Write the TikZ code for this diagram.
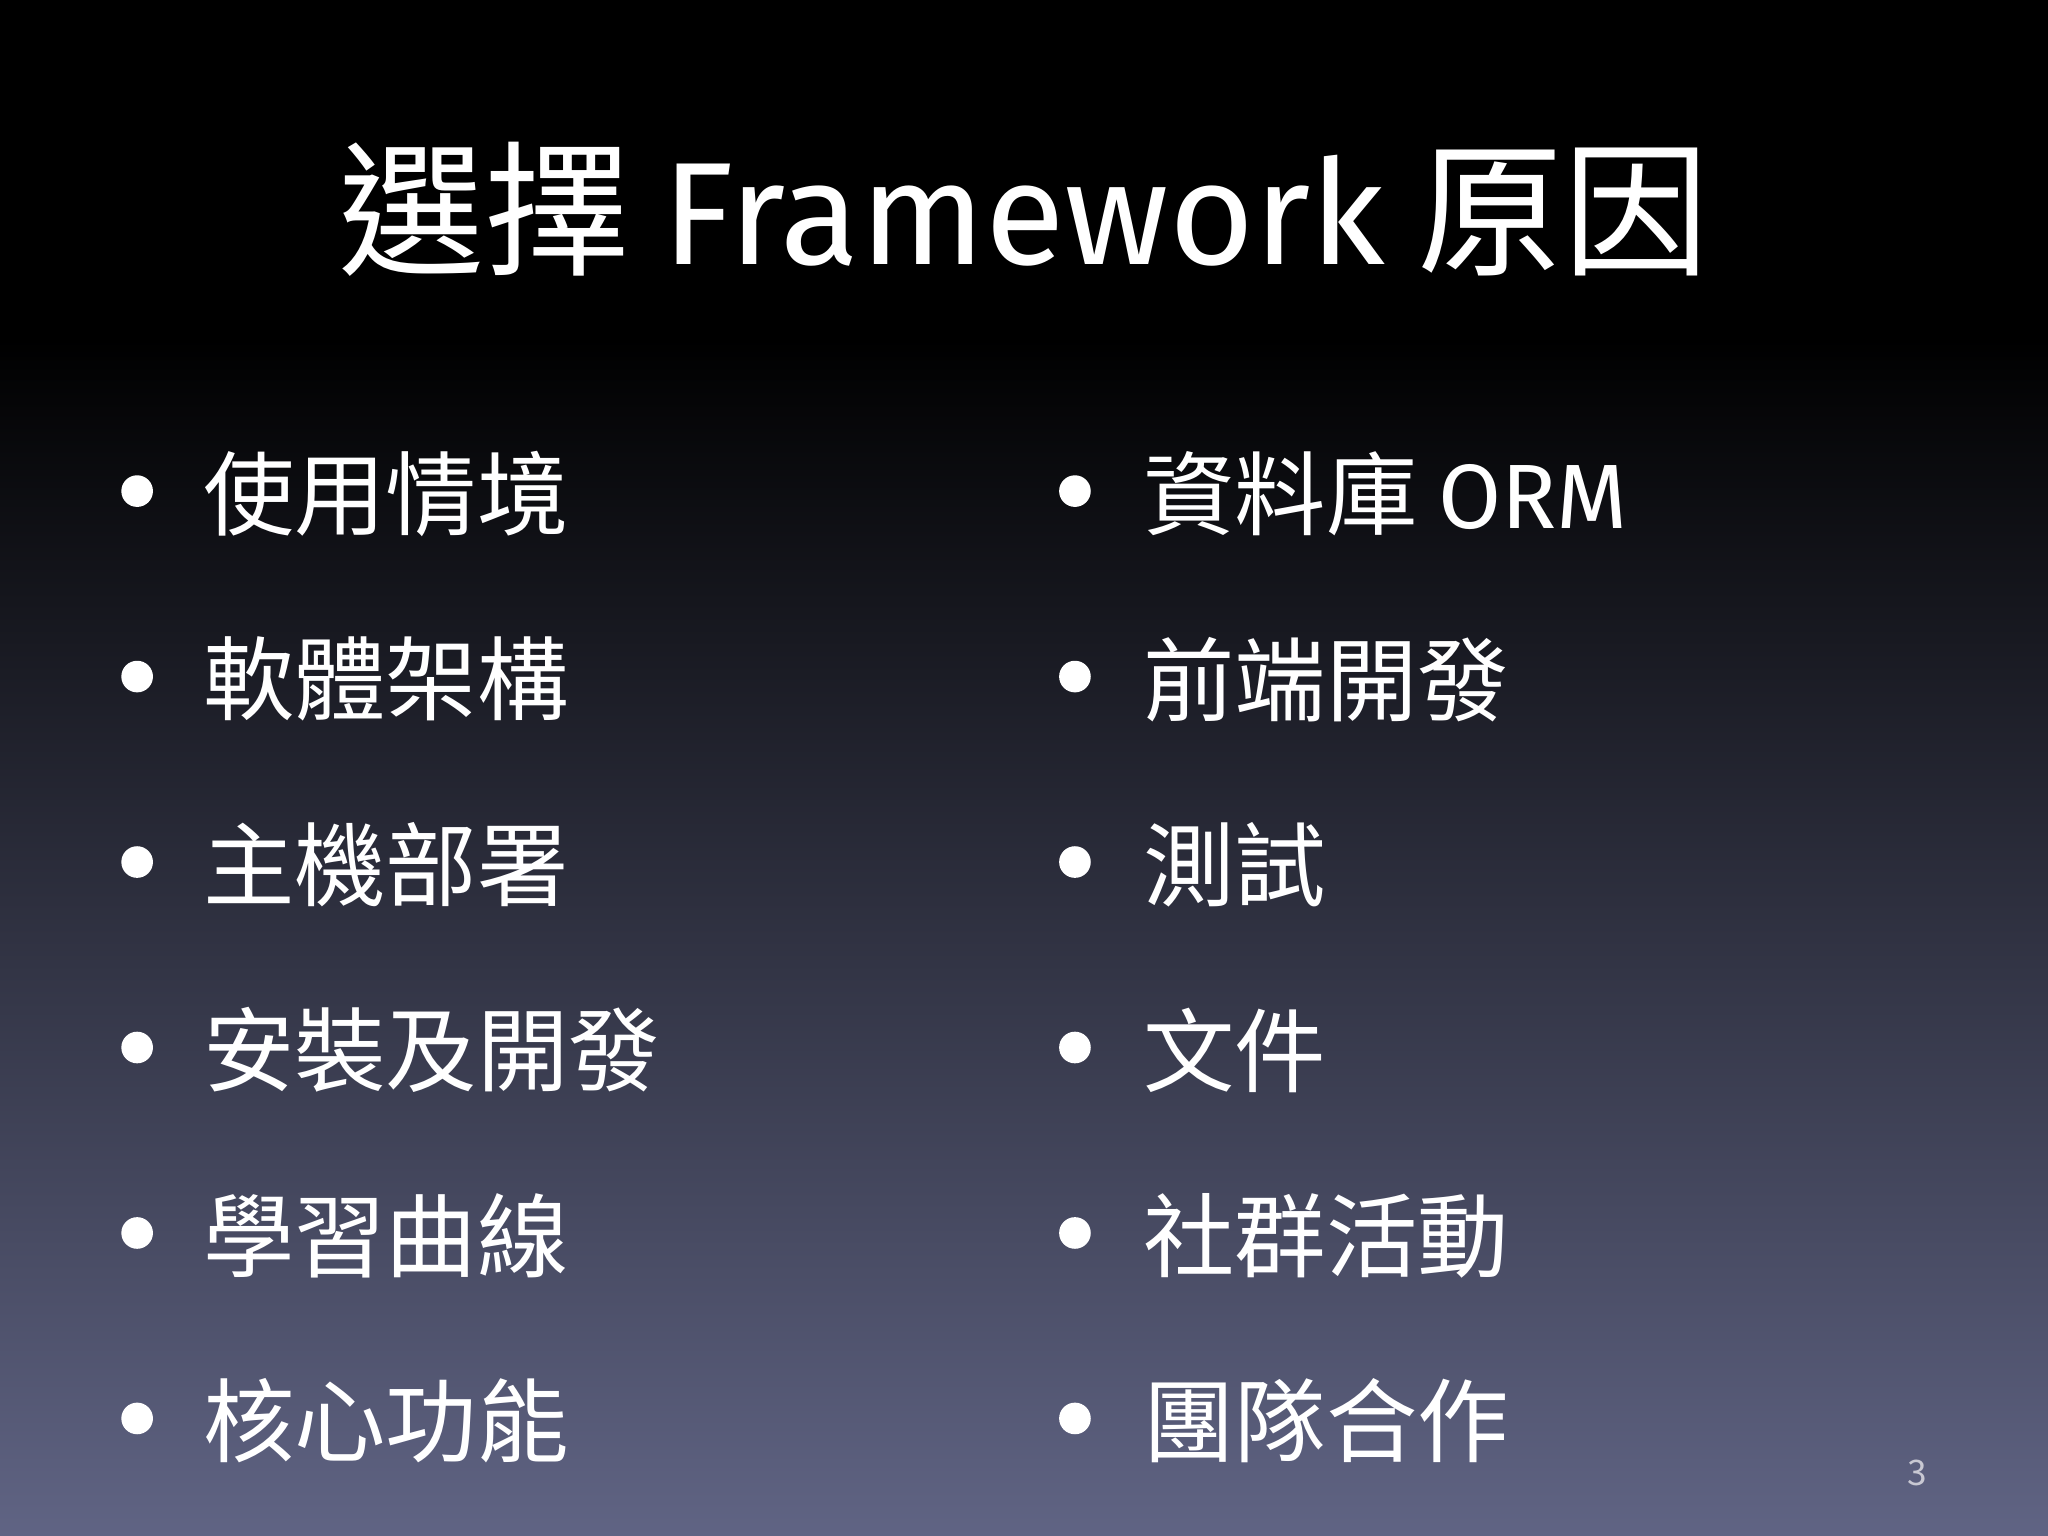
\documentclass[tikz,border=0pt]{standalone}
\usepackage{fontspec}
\setmainfont{Noto Sans CJK TC}
\newfontfamily\latinf{Fira Sans}
\definecolor{bgbot}{RGB}{96,100,132}
\definecolor{pgnum}{RGB}{200,200,210}
\begin{document}
\begin{tikzpicture}[x=0.013061cm,y=-0.013061cm,
  item/.style={anchor=west,text=white,font=\fontsize{26pt}{30pt}\selectfont,inner sep=0},
  dot/.style={circle,fill=white,minimum size=9,inner sep=0}]
\useasboundingbox (0,0) rectangle (1568,1176);
\fill[black] (0,0) rectangle (1568,260);
\shade[top color=black,bottom color=bgbot] (0,259) rectangle (1568,1176);
\node[text=white,font=\fontsize{41.5pt}{46pt}\selectfont,inner sep=0] (title) at (784,160) {選擇 {\latinf Framework} 原因};
\foreach \t [count=\i] in {使用情境,軟體架構,主機部署,安裝及開發,學習曲線,核心功能}{
  \node[dot] (ld\i) at (105,{376+142*(\i-1)}) {};
  \node[item] (l\i) at (155,{378+142*(\i-1)}) {\t};
}
\foreach \t [count=\i] in {資料庫 {\latinf ORM},前端開發,測試,文件,社群活動,團隊合作}{
  \node[dot] (rd\i) at (823,{376+142*(\i-1)}) {};
  \node[item] (r\i) at (875,{378+142*(\i-1)}) {\t};
}
\node[text=pgnum,font=\fontsize{10pt}{12pt}\selectfont,inner sep=0] (pg) at (1468,1128) {3};
\end{tikzpicture}
\end{document}
